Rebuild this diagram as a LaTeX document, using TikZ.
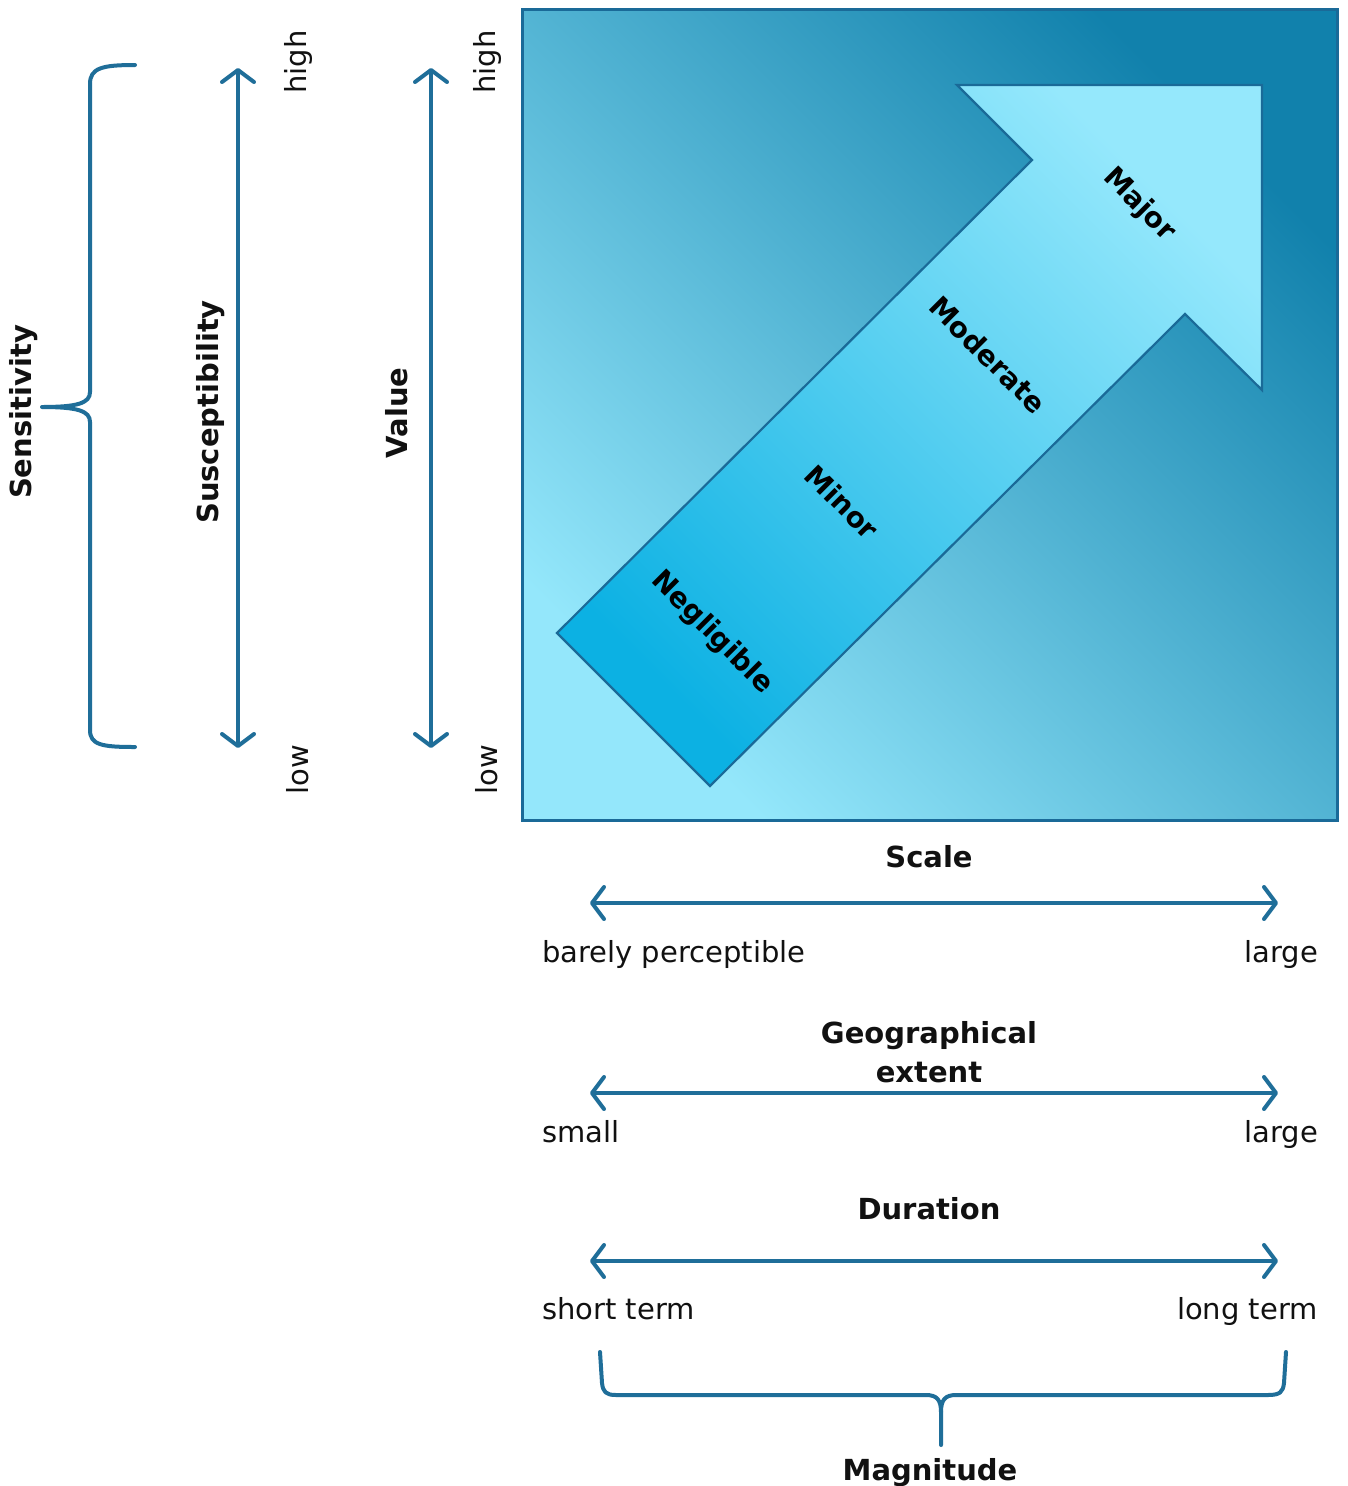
\documentclass[tikz,border=0pt]{standalone}
\usepackage{fontspec}
\setmainfont{DejaVu Sans}
\usetikzlibrary{arrows.meta}
\definecolor{lineblue}{HTML}{1F6E99}
\definecolor{boxborder}{HTML}{1A6A98}
\definecolor{sqlight}{HTML}{94E7FB}
\definecolor{sqmid}{HTML}{62B9D9}
\definecolor{sqdark}{HTML}{1181AC}
\definecolor{arrlight}{HTML}{95E8FC}
\definecolor{arrdark}{HTML}{0CB1E3}
\definecolor{txt}{HTML}{111111}
\begin{document}
\begin{tikzpicture}[x=1pt,y=-1pt,
  tipb/.tip={Straight Barb[length=12pt,width=32pt,round]},
  axis/.style={draw=lineblue, line width=4pt, line cap=round, tipb-tipb},
  brace/.style={draw=lineblue, line width=4pt, line cap=round, line join=round},
  lab/.style={font=\fontsize{29}{34}\selectfont, text=txt, inner sep=0pt},
  blab/.style={font=\fontsize{29}{34}\selectfont\bfseries, text=txt, inner sep=0pt, align=center},
  alab/.style={font=\fontsize{28}{32}\selectfont\bfseries, text=black, rotate=-45, inner sep=0pt}]
\useasboundingbox (0,0) rectangle (1347,1486);
\fill[white] (0,0) rectangle (1347,1486);

% main square
\coordinate (sqA) at (522,9);
\coordinate (sqB) at (1337,820);
\shade[top color=sqdark, middle color=sqmid, bottom color=sqlight, shading angle=-45] (sqA) rectangle (sqB);
\draw[boxborder, line width=3pt] (sqA) rectangle (sqB);

% big arrow
\coordinate (t1) at (557,633);
\coordinate (t2) at (710,786);
\coordinate (n1) at (1185,314);
\coordinate (h1) at (1262,390);
\coordinate (tip) at (1262,85);
\coordinate (h2) at (957,85);
\coordinate (n2) at (1032,160);
\shade[top color=arrlight, bottom color=arrdark, shading angle=-45]
  (t1) -- (t2) -- (n1) -- (h1) -- (tip) -- (h2) -- (n2) -- cycle;
\draw[boxborder, line width=2.2pt, line join=miter]
  (t1) -- (t2) -- (n1) -- (h1) -- (tip) -- (h2) -- (n2) -- cycle;

\node[alab] (neg) at (712,633) {Negligible};
\node[alab] (min) at (842,502) {Minor};
\node[alab] (mod) at (988,355) {Moderate};
\node[alab] (maj) at (1139,205) {Major};

% left side
\draw[brace] (135,65) .. controls (102,65) and (90,68) .. (90,84) -- (90,392)
  .. controls (90,403) and (78,407) .. (42,407)
  .. controls (78,407) and (90,411) .. (90,422) -- (90,730)
  .. controls (90,745) and (102,747) .. (135,747);
\node[blab, rotate=90] (sens) at (24,412) {Sensitivity};

\coordinate (susTop) at (238,68);
\coordinate (susBot) at (238,748);
\draw[axis] (susBot) -- (susTop);
\node[blab, rotate=90] (sus) at (211,412) {Susceptibility};
\node[lab, rotate=90] (hi1) at (298,62) {high};
\node[lab, rotate=90] (lo1) at (298,770) {low};

\coordinate (valTop) at (431,68);
\coordinate (valBot) at (431,748);
\draw[axis] (valBot) -- (valTop);
\node[blab, rotate=90] (val) at (397,413) {Value};
\node[lab, rotate=90] (hi2) at (487,62) {high};
\node[lab, rotate=90] (lo2) at (487,770) {low};

% bottom scales
\node[blab, anchor=base] (scale) at (929,867) {Scale};
\coordinate (sL) at (590,903);
\coordinate (sR) at (1278,903);
\draw[axis] (sL) -- (sR);
\node[lab, anchor=base west] (bp) at (542,962) {barely perceptible};
\node[lab, anchor=base east] (lg1) at (1318,962) {large};

\node[blab, anchor=base] (geo) at (929,1043) {Geographical};
\node[blab, anchor=base] (ext) at (929,1082) {extent};
\coordinate (gL) at (590,1093);
\coordinate (gR) at (1278,1093);
\draw[axis] (gL) -- (gR);
\node[lab, anchor=base west] (sm) at (542,1142) {small};
\node[lab, anchor=base east] (lg2) at (1318,1142) {large};

\node[blab, anchor=base] (dur) at (929,1219) {Duration};
\coordinate (dL) at (590,1261);
\coordinate (dR) at (1278,1261);
\draw[axis] (dL) -- (dR);
\node[lab, anchor=base west] (st) at (542,1319) {short term};
\node[lab, anchor=base east] (lt) at (1318,1319) {long term};

% magnitude brace
\draw[brace] (600,1352) -- (602,1383) .. controls (603,1392) and (606,1395) .. (616,1395)
  -- (926,1395) .. controls (937,1395) and (941,1400) .. (941,1412) -- (941,1445);
\draw[brace] (941,1412) .. controls (941,1400) and (945,1395) .. (956,1395)
  -- (1268,1395) .. controls (1280,1395) and (1283,1392) .. (1284,1383) -- (1286,1352);
\node[blab, anchor=base] (mag) at (930,1480) {Magnitude};
\end{tikzpicture}
\end{document}
